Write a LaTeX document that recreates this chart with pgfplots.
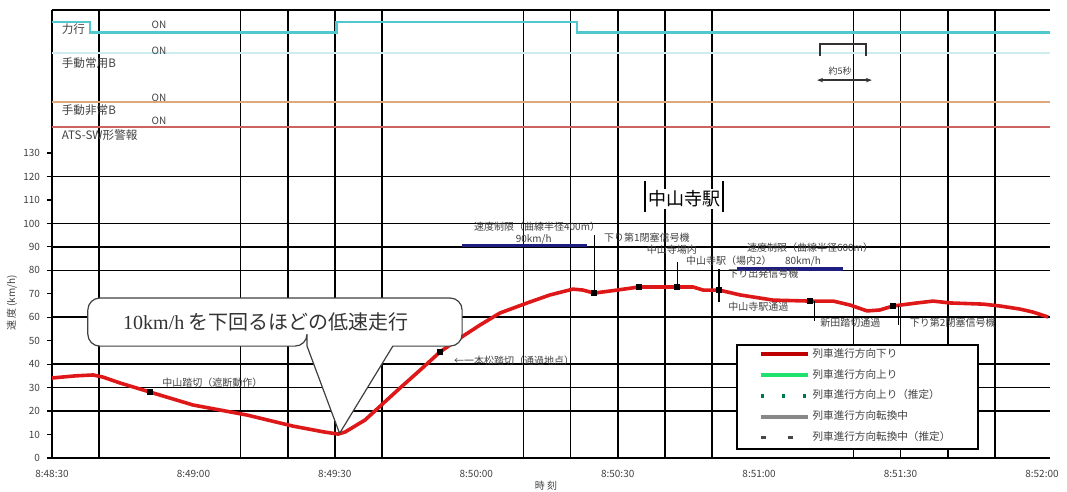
\documentclass[border=0pt]{standalone}
\usepackage{pgfplots}
\pgfplotsset{compat=1.18}
\usetikzlibrary{arrows.meta}
\usepackage{fontspec}
\setmainfont{Noto Sans CJK JP}
\newfontfamily\latinserif{Liberation Serif}

\definecolor{trainred}{RGB}{222,24,24}
\definecolor{legred}{RGB}{190,0,0}
\definecolor{upgreen}{RGB}{30,225,110}
\definecolor{estgreen}{RGB}{0,120,70}
\definecolor{turngray}{RGB}{135,135,135}
\definecolor{turndash}{RGB}{70,70,70}
\definecolor{powercyan}{RGB}{80,200,205}
\definecolor{palecyan}{RGB}{205,236,238}
\definecolor{brakeorange}{RGB}{222,168,125}
\definecolor{atsred}{RGB}{205,100,100}
\definecolor{limitblue}{RGB}{30,30,130}
\definecolor{notegray}{RGB}{65,65,65}

\newcommand{\anno}{\fontsize{5}{6}\selectfont}
\newcommand{\sig}{\fontsize{5.8}{7}\selectfont}

\pgfplotsset{legend image code/.code={\draw[#1] (0pt,0pt) -- (23.5pt,0pt);}}

\begin{document}
\begin{tikzpicture}
\path[use as bounding box] (-26pt,-17pt) rectangle (507.5pt,229pt);
\begin{axis}[
  at={(0pt,0pt)}, anchor=south west,
  scale only axis, width=499pt, height=224pt,
  xmin=0, xmax=211.7, ymin=0, ymax=191,
  axis x line*=bottom, axis y line*=left,
  axis line style={line width=1pt, -},
  clip=false,
  xtick={0,30,...,210},
  xticklabels={8:48:30,8:49:00,8:49:30,8:50:00,8:50:30,8:51:00,8:51:30,8:52:00},
  ytick={0,10,...,130},
  /pgf/number format/assume math mode=true,
  tick label style={font=\fontsize{5}{6}\selectfont, text=notegray},
  xtick style={draw=none},
  ytick style={line width=0.6pt, black},
  tick align=outside, major tick length=2.5pt,
  extra x ticks={10,40,50,60,70,100,110,120,130,140,170,180,190,200},
  extra x tick labels={},
  extra x tick style={grid=major, major tick length=0pt},
  extra y ticks={20,30,40,60,80,90,100,120},
  extra y tick labels={},
  extra y tick style={grid=major},
  major grid style={line width=0.8pt, black},
  xlabel={時 刻},
  xlabel style={at={(axis description cs:0.495,0)}, anchor=center, yshift=-14pt, font=\fontsize{5}{6}\selectfont, text=notegray},
  ylabel={速 度 (km/h)},
  ylabel style={at={(axis description cs:-0.0401,0.346)}, anchor=center, font=\fontsize{5}{6}\selectfont, text=notegray},
  legend style={at={(axis cs:149.8,48.8)}, anchor=north west, draw=none, fill=none,
    inner sep=0pt, font=\fontsize{5.3}{6}\selectfont, text=notegray,
    nodes={inner sep=0pt, minimum height=10.4pt}, row sep=0pt, column sep=1.5pt},
  legend cell align=left,
]

% top frame of the signal panel
\draw[line width=1pt] (axis cs:0,191) -- (axis cs:211.7,191);

% signal records
\addplot[forget plot, powercyan, line width=1.3pt] coordinates {
  (0,185.8) (8.1,185.8) (8.1,181.4) (60.3,181.4) (60.3,185.8)
  (111.4,185.8) (111.4,181.4) (211.7,181.4)};
\addplot[forget plot, palecyan, line width=1.2pt] coordinates {(0,172.6) (211.7,172.6)};
\addplot[forget plot, brakeorange, line width=1pt] coordinates {(0,151.7) (211.7,151.7)};
\addplot[forget plot, atsred, line width=1pt] coordinates {(0,141.1) (211.7,141.1)};

\node[anchor=west, font=\sig, text=notegray] at (axis cs:0.6,183.0) {力行};
\node[anchor=west, font=\sig, text=notegray] at (axis cs:0.6,168.2) {手動常用B};
\node[anchor=west, font=\sig, text=notegray] at (axis cs:0.6,148.3) {手動非常B};
\node[anchor=west, font=\sig, text=notegray] at (axis cs:0.6,137.7) {ATS-SW形警報};
\node[font=\anno, text=notegray] at (axis cs:22.7,184.6) {ON};
\node[font=\anno, text=notegray] at (axis cs:22.7,173.5) {ON};
\node[font=\anno, text=notegray] at (axis cs:22.7,153.7) {ON};
\node[font=\anno, text=notegray] at (axis cs:22.7,143.6) {ON};

% duration bracket
\draw[line width=0.7pt, black!80] (axis cs:162.9,171.4) -- (axis cs:162.9,176.5) -- (axis cs:172.7,176.5) -- (axis cs:172.7,171.4);
\draw[line width=0.7pt, black!80, {Stealth[length=3pt]}-{Stealth[length=3pt]}] (axis cs:162.3,161.1) -- (axis cs:173.9,161.1);
\node[font=\fontsize{4.5}{5}\selectfont, text=notegray] at (axis cs:167.2,165) {約5秒};

% speed limits
\addplot[forget plot, limitblue, line width=1.8pt] coordinates {(87.0,90.6) (113.5,90.6)};
\addplot[forget plot, limitblue, line width=1.8pt] coordinates {(145.3,80.6) (167.8,80.6)};

% train speed
\addplot[forget plot, trainred, line width=1.8pt, line join=round] coordinates {
  (0,34.1) (4.9,35.0) (8.7,35.4) (10.8,34.5) (14.4,32.0) (20.8,28.1)
  (29.9,22.6) (41.4,18.3) (51.1,13.6) (57.7,11.1) (60.7,10.2) (62.2,11.1)
  (66.4,16.2) (73.8,29.8) (78.1,37.5) (82.3,45.2) (86.6,51.2) (90.8,56.7)
  (95.0,61.8) (100.8,66.1) (105.6,69.5) (110.5,72.0) (112.6,71.6) (115.0,70.3)
  (119.9,71.6) (124.5,72.9) (129.0,72.9) (132.6,72.9) (136.0,72.9) (138.1,71.6)
  (141.5,71.6) (146.0,69.5) (153.0,67.3) (160.8,66.9) (165.7,66.9) (169.3,65.2)
  (172.9,62.7) (175.6,63.1) (178.4,64.8) (183.5,66.1) (186.9,66.9) (190.5,66.1)
  (197.5,65.6) (201.1,64.8) (205.3,63.5) (208.1,62.2) (211.3,60.1)};

% passing points
\addplot[forget plot, only marks, mark=square*, mark size=1.3pt, black] coordinates {
  (20.8,28.1) (82.3,45.2) (115.0,70.3) (124.5,72.9) (132.6,72.9)
  (141.5,71.6) (160.8,66.9) (178.4,64.8)};

% leader lines
\draw[line width=0.6pt] (axis cs:115.0,70.3) -- (axis cs:115.0,95);
\draw[line width=0.6pt] (axis cs:132.6,72.9) -- (axis cs:132.6,83.5);
\draw[line width=0.6pt] (axis cs:141.5,80.6) -- (axis cs:141.5,66.5);
\draw[line width=0.6pt] (axis cs:161.8,66.9) -- (axis cs:161.8,58.5);
\draw[line width=0.6pt] (axis cs:179.5,64.8) -- (axis cs:179.5,56.5);

% annotations
\node[anchor=west, font=\anno, text=notegray] at (axis cs:21.9,32.0) {中山踏切（遮断動作）};
\node[anchor=west, font=\anno, text=notegray] at (axis cs:83.8,41.3) {←一本松踏切（通過地点）};
\node[font=\anno, text=notegray] at (axis cs:102.9,98.5) {速度制限（曲線半径400m）};
\node[font=\anno, text=notegray] at (axis cs:102.2,93.0) {90km/h};
\node[anchor=west, font=\anno, text=notegray] at (axis cs:115.6,94.0) {下り第1閉塞信号機};
\node[anchor=west, font=\anno, text=notegray] at (axis cs:124.7,88.7) {中山寺場内};
\node[anchor=west, font=\anno, text=notegray] at (axis cs:133.0,84.3) {中山寺駅（場内2）};
\node[anchor=west, font=\anno, text=notegray] at (axis cs:142.0,78.6) {下り出発信号機};
\node[anchor=west, font=\anno, text=notegray] at (axis cs:142.0,64.4) {中山寺駅通過};
\node[font=\anno, text=notegray] at (axis cs:160.8,89.5) {速度制限（曲線半径600m）};
\node[font=\anno, text=notegray] at (axis cs:159.3,83.6) {80km/h};
\node[anchor=west, font=\anno, text=notegray] at (axis cs:161.5,57.5) {新田踏切通過};
\node[anchor=west, font=\anno, text=notegray] at (axis cs:180.5,57.5) {下り第2閉塞信号機};

% station name
\node[fill=white, inner sep=1pt, minimum width=36pt, font=\fontsize{9}{10}\selectfont] at (axis cs:134.1,110.4) {中山寺駅};
\draw[line width=1pt] (axis cs:125.8,104.9) -- (axis cs:125.8,118);
\draw[line width=1pt] (axis cs:142.3,104.9) -- (axis cs:142.3,118);

% callout
\draw[fill=white, draw=black!75, line width=0.6pt]
  (axis cs:54.1,47.7) -- (axis cs:61.0,10.5) -- (axis cs:72.3,47.7)
  {[rounded corners=6pt] -- (axis cs:87.0,47.7) -- (axis cs:87.0,68.2)
  -- (axis cs:7.6,68.2) -- (axis cs:7.6,47.7) -- (axis cs:54.1,47.7)} -- cycle;
\node[font=\fontsize{10}{12}\selectfont, text=black!80] at (axis cs:45.4,58.0) {{\latinserif 10km/h} を下回るほどの低速走行};

% legend frame
\draw[fill=white, line width=0.8pt] (axis cs:145.3,48.2) rectangle (axis cs:196.4,3.8);

\addlegendimage{legred, line width=2pt}
\addlegendentry{列車進行方向下り}
\addlegendimage{upgreen, line width=2pt}
\addlegendentry{列車進行方向上り}
\addlegendimage{estgreen, line width=1.6pt, dash pattern=on 1.6pt off 9pt}
\addlegendentry{列車進行方向上り（推定）}
\addlegendimage{turngray, line width=2pt}
\addlegendentry{列車進行方向転換中}
\addlegendimage{turndash, line width=1.2pt, dash pattern=on 2.5pt off 11pt}
\addlegendentry{列車進行方向転換中（推定）}
\end{axis}
\end{tikzpicture}
\end{document}
